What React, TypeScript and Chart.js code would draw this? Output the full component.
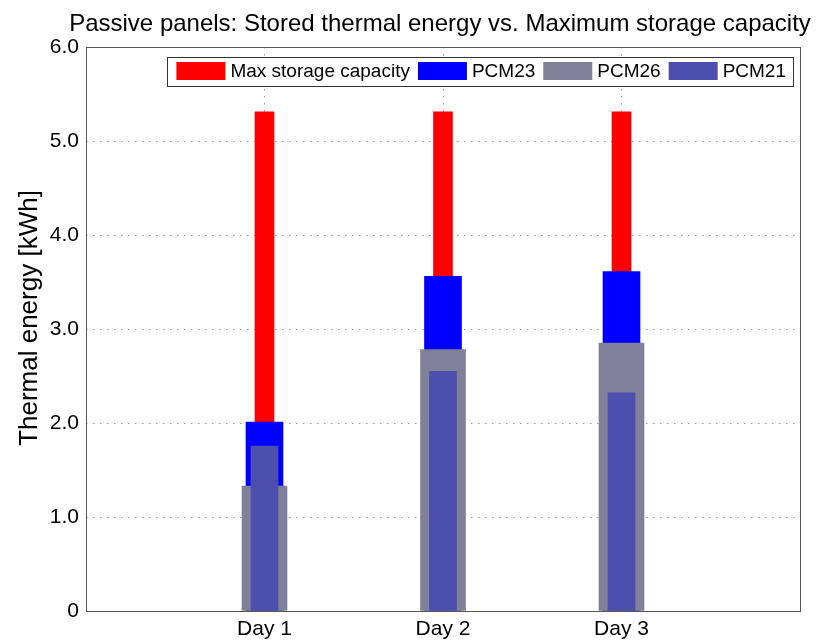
import React, { useEffect, useRef } from "react";
import { Chart, registerables } from "chart.js";

Chart.register(...registerables);

const categories = ["", "Day 1", "Day 2", "Day 3", ""];
const maxCapacity = [null, 5.31, 5.31, 5.31, null];
const pcm23 = [null, 2.01, 3.56, 3.61, null];
const pcm26 = [null, 1.33, 2.78, 2.85, null];
const pcm21 = [null, 1.755, 2.55, 2.32, null];
const yTicks = [0, 1, 2, 3, 4, 5, 6];

const FONT = "'Liberation Sans', Arial, sans-serif";

const framePlugin = {
  id: "frameAndLegend",
  afterDraw(chart: any) {
    const { ctx, chartArea } = chart;
    ctx.save();
    // frame
    ctx.strokeStyle = "#555";
    ctx.lineWidth = 1;
    ctx.setLineDash([]);
    ctx.strokeRect(
      Math.round(chartArea.left) + 0.5,
      Math.round(chartArea.top) + 0.5,
      Math.round(chartArea.right - chartArea.left),
      Math.round(chartArea.bottom - chartArea.top)
    );
    // title
    ctx.fillStyle = "#000";
    ctx.font = `24px ${FONT}`;
    ctx.textAlign = "center";
    ctx.textBaseline = "alphabetic";
    ctx.fillText(
      "Passive panels: Stored thermal energy vs. Maximum storage capacity",
      440,
      31
    );
    // y axis title
    ctx.save();
    ctx.translate(30, 318);
    ctx.rotate(-Math.PI / 2);
    ctx.font = `26px ${FONT}`;
    ctx.textBaseline = "middle";
    ctx.fillText("Thermal energy [kWh]", 0, 0);
    ctx.restore();
    // legend (inside plot, top right)
    const items = chart.data.datasets.slice().reverse();
    ctx.font = `19px ${FONT}`;
    const swW = 49, swH = 18, gapSw = 5, gapItem = 8, padL = 9, padR = 7;
    let total = padL + padR;
    items.forEach((d: any, i: number) => {
      total += swW + gapSw + ctx.measureText(d.label).width;
      if (i < items.length - 1) total += gapItem;
    });
    const right = 793;
    const left = right - total;
    const top = 57, h = 29;
    ctx.fillStyle = "#fff";
    ctx.fillRect(left, top, total, h);
    ctx.strokeStyle = "#333";
    ctx.strokeRect(Math.round(left) + 0.5, top + 0.5, Math.round(total), h);
    let x = left + padL;
    ctx.textAlign = "left";
    ctx.textBaseline = "middle";
    items.forEach((d: any) => {
      ctx.fillStyle = d.backgroundColor;
      ctx.fillRect(x, top + 5, swW, swH);
      x += swW + gapSw;
      ctx.fillStyle = "#000";
      ctx.fillText(d.label, x, top + 15);
      x += ctx.measureText(d.label).width + gapItem;
    });
    ctx.restore();
  },
};

export default function App() {
  const ref = useRef<HTMLCanvasElement>(null);
  useEffect(() => {
    if (!ref.current) return;
    const chart = new Chart(ref.current, {
      type: "bar",
      data: {
        labels: categories,
        datasets: [
          { label: "PCM21", data: pcm21, backgroundColor: "rgb(77,79,175)", barThickness: 27, grouped: false } as any,
          { label: "PCM26", data: pcm26, backgroundColor: "rgb(128,128,153)", barThickness: 45, grouped: false } as any,
          { label: "PCM23", data: pcm23, backgroundColor: "rgb(0,0,255)", barThickness: 37, grouped: false } as any,
          { label: "Max storage capacity", data: maxCapacity, backgroundColor: "rgb(255,0,0)", barThickness: 19, grouped: false } as any,
        ],
      },
      options: {
        responsive: false,
        animation: false,
        layout: { padding: { top: 47, right: 16, left: 0, bottom: 0 } },
        plugins: {
          legend: { display: false },
          title: { display: false },
          tooltip: { enabled: false },
        },
        scales: {
          x: {
            type: "category",
            offset: false,
            grid: {
              offset: false,
              drawTicks: false,
              color: (c: any) =>
                c.index === 0 || c.index === categories.length - 1 ? "rgba(0,0,0,0)" : "#999",
            },
            border: { display: false, dash: [1.5, 5.5] },
            ticks: {
              color: "#000",
              font: { size: 21, family: FONT },
              padding: 6,
              maxRotation: 0,
              autoSkip: false,
            },
            afterFit: (s: any) => {
              s.height = 30;
            },
          },
          y: {
            min: 0,
            max: 6,
            afterBuildTicks: (s: any) => {
              s.ticks = yTicks.map((v) => ({ value: v }));
            },
            grid: {
              drawTicks: false,
              color: (c: any) =>
                c.tick && (c.tick.value === 0 || c.tick.value === 6) ? "rgba(0,0,0,0)" : "#999",
            },
            border: { display: false, dash: [1.5, 5.5] },
            ticks: {
              color: "#000",
              font: { size: 21, family: FONT },
              padding: 7,
              callback: (v: any) => (Number(v) === 0 ? "0" : Number(v).toFixed(1)),
            },
            afterFit: (s: any) => {
              s.width = 86;
            },
          },
        },
      },
      plugins: [framePlugin],
    });
    return () => chart.destroy();
  }, []);
  return (
    <div style={{ position: "absolute", left: 0, top: 0, width: 816, height: 641, background: "#fff" }}>
      <canvas ref={ref} width={816} height={641} />
    </div>
  );
}
